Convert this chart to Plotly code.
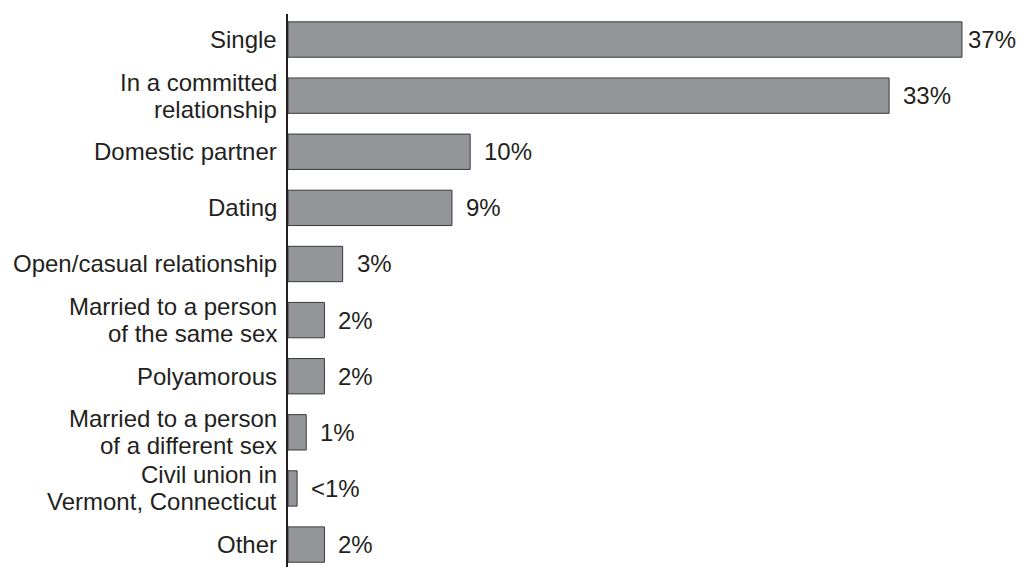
import plotly.graph_objects as go

# Relationship status of respondents, top to bottom
categories = [
    "Single",
    "In a committed<br>relationship",
    "Domestic partner",
    "Dating",
    "Open/casual relationship",
    "Married to a person<br>of the same sex",
    "Polyamorous",
    "Married to a person<br>of a different sex",
    "Civil union in<br>Vermont, Connecticut",
    "Other",
]
values = [37, 33, 10, 9, 3, 2, 2, 1, 0.5, 2]
value_labels = ["37%", "33%", "10%", "9%", "3%", "2%", "2%", "1%", "<1%", "2%"]

FONT = "Liberation Sans, Arial, Helvetica, sans-serif"
TEXT = "#231f20"
SIZE = 24
LINE_GAP = 27  # leading for the two-line category labels

fig = go.Figure(
    go.Bar(
        x=values,
        y=categories,
        orientation="h",
        width=0.63,
        marker=dict(color="#939598", line=dict(color="#3a3a3c", width=1)),
        hoverinfo="skip",
    )
)

# value labels just past the end of each bar
for cat, v, lab in zip(categories, values, value_labels):
    fig.add_annotation(
        x=v, y=cat, text=lab, showarrow=False,
        xanchor="left", yanchor="middle", xshift=12 if v < 35 else 4,
        font=dict(family=FONT, size=SIZE, color=TEXT),
    )

# category labels, right-aligned against the axis line
for cat in categories:
    lines = cat.split("<br>")
    n = len(lines)
    for i, line in enumerate(lines):
        fig.add_annotation(
            xref="paper", x=0, y=cat, text=line, showarrow=False,
            xanchor="right", yanchor="middle", align="right",
            xshift=-9, yshift=((n - 1) / 2 - i) * LINE_GAP,
            font=dict(family=FONT, size=SIZE, color=TEXT),
        )

fig.update_layout(
    width=1021, height=567,
    margin=dict(l=288, r=0, t=14, b=0),
    paper_bgcolor="white", plot_bgcolor="white",
    showlegend=False,
    font=dict(family=FONT, size=SIZE, color=TEXT),
    xaxis=dict(range=[0, 40.24], visible=False, fixedrange=True),
    yaxis=dict(
        type="category",
        categoryorder="array", categoryarray=categories,
        range=[9.4, -0.455],
        showline=True, linecolor=TEXT, linewidth=2,
        ticks="", showticklabels=False,
        showgrid=False, zeroline=False,
        fixedrange=True,
    ),
)

fig.write_html("out.html")
